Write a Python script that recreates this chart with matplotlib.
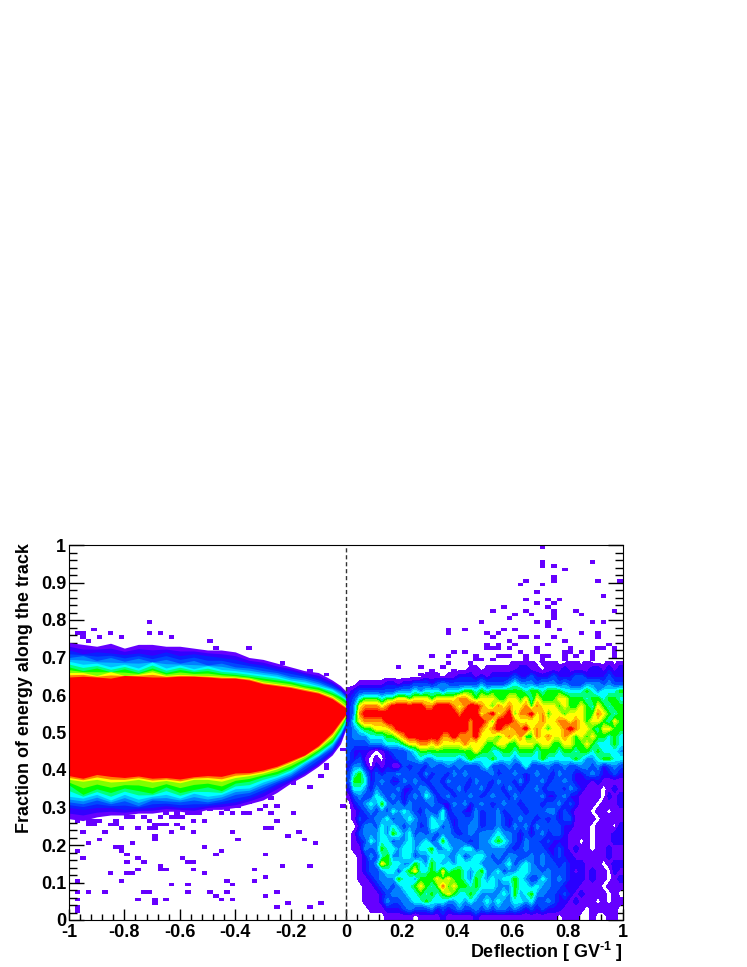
import numpy as np
import matplotlib
matplotlib.use('Agg')
import matplotlib.pyplot as plt
from matplotlib.colors import ListedColormap

plt.rcParams['font.family'] = ['Liberation Sans', 'DejaVu Sans']
plt.rcParams['font.weight'] = 'bold'
plt.rcParams['mathtext.fontset'] = 'custom'
plt.rcParams['mathtext.bf'] = 'Liberation Sans:bold'
plt.rcParams['mathtext.rm'] = 'Liberation Sans:bold'

# left branch (negative deflection): band edges for each colour step
band_x = [-1, -.95, -.9, -.85, -.8, -.75, -.7, -.65, -.6, -.55, -.5, -.45, -.4, -.35, -.3, -.25, -.2, -.15, -.1, -.05, -.02, 0]
top_purple = [.74, .735, .73, .738, .725, .735, .735, .73, .73, .725, .72, .72, .715, .70, .695, .685, .675, .665, .66, .64, .625, .61]
top_blue = [.72, .71, .715, .712, .708, .712, .706, .715, .705, .71, .705, .70, .695, .685, .68, .67, .665, .655, .645, .63, .615, .60]
top_azure = [.70, .705, .692, .70, .69, .698, .688, .695, .685, .692, .68, .685, .675, .672, .665, .66, .65, .645, .635, .62, .61, .595]
top_cyan = [.69, .682, .685, .675, .682, .672, .688, .672, .68, .67, .678, .668, .665, .66, .655, .65, .64, .635, .625, .615, .60, .59]
top_green = [.675, .665, .672, .662, .67, .66, .672, .66, .668, .662, .665, .658, .655, .65, .645, .64, .635, .625, .62, .605, .595, .585]
top_yellow = [.66, .66, .652, .662, .652, .655, .662, .652, .655, .653, .652, .65, .648, .645, .635, .63, .625, .618, .61, .597, .582, .57]
top_red = [.648, .65, .648, .645, .652, .65, .648, .648, .65, .65, .648, .645, .645, .64, .63, .625, .62, .612, .605, .59, .575, .565]
bot_red = [.385, .378, .388, .383, .38, .384, .378, .38, .376, .382, .385, .383, .392, .393, .40, .41, .425, .44, .465, .50, .53, .55]
bot_yellow = [.375, .37, .375, .368, .37, .375, .368, .372, .366, .375, .375, .37, .38, .385, .392, .403, .418, .436, .458, .49, .522, .545]
bot_green = [.36, .335, .35, .34, .352, .345, .338, .355, .34, .348, .355, .345, .365, .37, .382, .39, .405, .425, .45, .475, .51, .54]
bot_cyan = [.33, .325, .335, .32, .335, .322, .33, .335, .325, .338, .33, .335, .35, .352, .368, .38, .395, .42, .44, .47, .50, .53]
bot_azure = [.315, .31, .32, .31, .318, .305, .32, .318, .315, .32, .315, .322, .335, .34, .355, .37, .385, .41, .435, .46, .495, .525]
bot_blue = [.30, .295, .30, .30, .295, .298, .30, .305, .30, .30, .305, .31, .315, .325, .34, .36, .375, .395, .42, .45, .485, .52]
bot_purple = [.27, .265, .275, .28, .28, .285, .285, .29, .29, .285, .295, .295, .30, .31, .32, .34, .365, .385, .41, .44, .47, .51]

# right branch: colour step per bin, top row is y=0.69, bottom row y=0.01, x from 0.01 to 0.99
right_rows = [
    "00000000000000000000000000000011110111001101000101",
    "00000000000000000000001101111112211011121111221212",
    "00000000000000111011222121222232232223222332222322",
    "00111112212233323433333343333454443444343334443433",
    "12333333344454555455566565666666566566655556545556",
    "23566656677677767777887677766776757666776665665665",
    "24788878999999889998789987687877868777676676576566",
    "24899999999999999999899978978968897867767776687656",
    "25788889999999999999998998699987777877887876776576",
    "34566777899999999999998987898788978767789877657766",
    "34445556678999999889888977767878668787787676766565",
    "33334445556778878777787776677667776776677667655565",
    "32221012333456666666666766556656665666566566565554",
    "32310102233445445555456555655545555655555654456655",
    "24420212103233243343433345333433533343343344342343",
    "35642323343332423324343333423343234332433223432232",
    "36652343224343233243332433243324233423343222121111",
    "25542433342234423323423342332432334233324321110121",
    "13433543432343542342334323433243333422342211110212",
    "02345464342433343224342343234332333233423211101112",
    "01234343545432433523322423342333233344232111011011",
    "01323445344543354532333423343234332323233111101111",
    "00244354543442355342334423343243424333322111011102",
    "01344454654534343443234344454432323423321111011122",
    "01235455344544534644432344565432433232221101011122",
    "01143465545545564454455344444323433322321211011211",
    "00124356445534455544534554343443343432322111111211",
    "00123476554465465454555544434534543433232221110122",
    "00123345535675565756654564453445544343332121211021",
    "00112344465546667676654654545565433543432221211012",
    "00011234345567656867665655544465545443322211110111",
    "00011123444556565676556544445464564433232121111010",
    "00011124334455655544545445454455453343221211101011",
    "00001112223433342323433434344343232322211110111110",
    "00000001111101111211111211111111111111011100100110",
]
right_x = [0.01 + 0.02 * i for i in range(50)]
right_y = [0.69 - 0.02 * i for i in range(35)]

# isolated single-count bins
stray_x = [-.71, -.91, -.97, -.95, -.95, -.93, -.89, -.85, -.81, -.71, -.67, -.63, -.49, -.47, -.35, -.23, -.13, -.07,
           -.97, -.95, -.93, -.89, -.87, -.95, -.97, -.97, -.93, -.87, -.97, -.97, -.97, -.83, -.81, -.81, -.79, -.77,
           -.79, -.73, -.75, -.75, -.77, -.79, -.85, -.81, -.67, -.67, -.65, -.69, -.69, -.59, -.57, -.55, -.55, -.51,
           -.51, -.47, -.45, -.57, -.63, -.73, -.71, -.57, -.49, -.47, -.43, -.45, -.41, -.43, -.41, -.75, -.69, -.69,
           -.65, -.41, -.39, -.33, -.33, -.29, -.29, -.29, -.25, -.25, -.21, -.23, -.13, -.13, -.09, -.21, -.17, -.15,
           -.11, -.29, -.27, -.25, -.63, -.55, -.59, -.55, -.51, -.93, -.91, -.85, -.83, -.81, -.75, -.71, -.69, -.69,
           -.67, -.65, -.61, -.61, -.61, -.65, -.45, -.41, -.37, -.35, -.27, -.19, -.31, -.29, -.25, -.33, -.27, -.13,
           -.09, -.19, -.23, -.07, -.07, -.01, -.01,
           -.97, -.93, -.91, -.89, -.83, -.79, -.77, -.73, -.71, -.67, -.63, -.59, -.57, -.55, -.53, -.49, -.43, -.39, -.35, -.37,
           .71, .71, .71, .75, .79, .89, .75, .75, .65, .63, .71, .91, .99, .69, .93, .65, .73, .77, .69, .75, .73,
           .57, .53, .65, .75, .75, .75, .83, .97, .61, .67, .85, .59, .49, .69, .73, .73, .89, .93, .37, .37, .43,
           .57, .61, .77, .51, .55, .85, .91, .91, .53, .63, .65, .69, .75, .59, .79, .61, .51, .55, .73, .95, .51,
           .53, .55, .59, .69, .69, .81, .91, .93, .97, .97, .97, .39, .43, .63, .79, .81, .85, .89, .31, .37, .47,
           .55, .57, .59, .65, .71, .73, .79, .83, .89, .47, .49, .53, .65, .71, .79, .89, .37, .45, .19, .27, .35,
           .31, .39, .27, .33, .13, .19, .21, .09, .11]
stray_y = [.797, .776, .766, .766, .755, .744, .755, .766, .755, .766, .766, .755, .744, .726, .726, .686, .666, .656,
           .185, .236, .206, .216, .236, .166, .107, .076, .076, .076, .056, .036, .026, .196, .196, .185, .176, .206,
           .156, .156, .166, .136, .126, .126, .126, .107, .146, .136, .136, .227, .216, .166, .156, .156, .136, .196,
           .126, .176, .186, .096, .096, .076, .076, .076, .076, .066, .076, .056, .056, .107, .096, .056, .056, .046,
           .056, .236, .216, .136, .107, .116, .176, .066, .076, .036, .046, .146, .146, .036, .046, .227, .236, .216,
           .206, .246, .246, .266, .236, .236, .246, .266, .266, .256, .256, .256, .256, .246, .246, .246, .246, .256,
           .256, .256, .286, .276, .256, .286, .286, .286, .286, .286, .286, .286, .296, .306, .306, .326, .326, .356,
           .386, .366, .366, .416, .406, .306, .456,
           .266, .266, .266, .266, .266, .276, .276, .276, .266, .276, .276, .276, .286, .286, .286, .296, .296, .306, .316, .316,
           .997, .955, .945, .947, .936, .957, .916, .905, .907, .896, .896, .907, .907, .876, .867, .856, .856, .856,
           .847, .847, .837, .837, .827, .827, .827, .816, .806, .827, .827, .816, .816, .816, .806, .797, .797, .797,
           .786, .797, .797, .776, .766, .776, .776, .776, .776, .766, .766, .766, .766, .755, .755, .755, .755, .755,
           .755, .744, .744, .735, .735, .735, .735, .735, .726, .726, .726, .726, .726, .715, .726, .726, .726, .726,
           .715, .705, .715, .715, .715, .715, .715, .715, .715, .705, .705, .705, .705, .705, .705, .705, .705, .705,
           .705, .705, .705, .695, .695, .695, .695, .695, .695, .695, .685, .685, .676, .676, .676, .666, .666, .656,
           .656, .636, .636, .627, .627, .627]

x_ticks = [-1, -0.8, -0.6, -0.4, -0.2, 0, 0.2, 0.4, 0.6, 0.8, 1]
x_labels = ['-1', '-0.8', '-0.6', '-0.4', '-0.2', '0', '0.2', '0.4', '0.6', '0.8', '1']
y_ticks = [0, 0.1, 0.2, 0.3, 0.4, 0.5, 0.6, 0.7, 0.8, 0.9, 1]
y_labels = ['0', '0.1', '0.2', '0.3', '0.4', '0.5', '0.6', '0.7', '0.8', '0.9', '1']

purple = '#6600ff'
colors = [purple, '#2a00ff', '#0a20ff', '#0048ff', '#0080ff', '#00c0ff', '#00ffff', '#00ff80',
          '#00ff00', '#80ff00', '#c0ff00', '#ffff00', '#ffc000', '#ff8000', '#ff4000', '#ff0000']
levels = [0.5, 1.5, 2.2, 2.8, 3.6, 4.2, 4.7, 5.3, 5.8, 6.3, 6.6, 6.9, 7.4, 7.9, 8.3, 8.6, 9.5]

fig = plt.figure(figsize=(7.47, 9.67), dpi=100)
ax = fig.add_axes([69 / 747, 1 - 920 / 967, 554 / 747, 375 / 967])

# stray bins on the 100x100 histogram grid
edges_x = np.linspace(-1, 1, 101)
edges_y = np.linspace(0, 1, 101)
h, _, _ = np.histogram2d(stray_x, stray_y, bins=[edges_x, edges_y])
h = np.ma.masked_equal(h, 0)
ax.pcolormesh(edges_x, edges_y, h.T, cmap=ListedColormap([purple]), vmin=0, vmax=1, zorder=1)

# left branch, outermost band first, half step between neighbouring bands
band_tops = [top_purple, top_blue, top_azure, top_cyan, top_green, top_yellow, top_red]
band_bots = [bot_purple, bot_blue, bot_azure, bot_cyan, bot_green, bot_yellow, bot_red]
band_colors = ['#6600ff', '#0a20ff', '#0080ff', '#00ffff', '#00ff00', '#ffff00', '#ff0000']
half_colors = ['#3300ff', '#0048ff', '#00c0ff', '#00ff80', '#80ff00', '#ff8000']
for i in range(len(band_tops)):
    ax.fill_between(band_x, band_bots[i], band_tops[i], color=band_colors[i], lw=0, zorder=2)
    if i < len(half_colors):
        t = (np.array(band_tops[i]) + np.array(band_tops[i + 1])) / 2
        b = (np.array(band_bots[i]) + np.array(band_bots[i + 1])) / 2
        ax.fill_between(band_x, b, t, color=half_colors[i], lw=0, zorder=2)

# right branch, edge bins repeated out to the frame
z = np.array([[int(ch) for ch in row] for row in right_rows], dtype=float)
z = np.pad(z, ((0, 1), (1, 1)), mode='edge')
zx = [0.0] + right_x + [1.0]
zy = right_y + [0.0]
ax.contourf(zx, zy, z, levels=levels, colors=colors, zorder=2)

ax.axvline(0, color='#333333', ls=(0, (3, 2)), lw=1, zorder=3)

ax.set_xlim(-1, 1)
ax.set_ylim(0, 1)
ax.set_xticks(x_ticks)
ax.set_xticklabels(x_labels, fontsize=13, fontweight='bold')
ax.set_yticks(y_ticks)
ax.set_yticklabels(y_labels, fontsize=13, fontweight='bold')
ax.set_xticks(np.arange(-1, 1.001, 0.04), minor=True)
ax.set_yticks(np.arange(0, 1.001, 0.02), minor=True)
ax.tick_params(axis='x', which='major', direction='in', length=8, width=1, pad=3)
ax.tick_params(axis='x', which='minor', direction='in', length=4, width=1)
ax.tick_params(axis='y', which='major', direction='in', length=11, width=1, pad=2, right=True)
ax.tick_params(axis='y', which='minor', direction='in', length=5.5, width=1, right=True)

fig.text(623 / 747, 1 - 958 / 967, r'Deflection [ GV$^{\text{-1}}$ ]', ha='right', va='baseline', fontsize=13, fontweight='bold')
fig.text(25 / 747, 1 - 688 / 967, 'Fraction of energy along the track', rotation=90, ha='center', va='center', fontsize=12.9, fontweight='bold')

fig.savefig('out.png', dpi=100)
